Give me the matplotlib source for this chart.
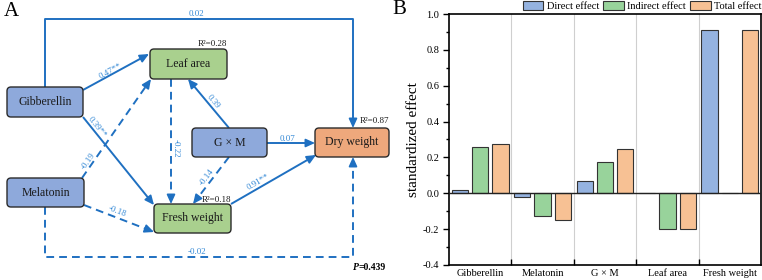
import math
import matplotlib
matplotlib.use("Agg")
import matplotlib.pyplot as plt
import numpy as np
from matplotlib.patches import FancyBboxPatch

plt.rcParams['font.family'] = ['Liberation Serif', 'DejaVu Serif']

# ---------- data ----------
# panel A: nodes, R2 and path coefficients
nodes = ["Gibberellin", "Melatonin", "G \u00d7 M", "Leaf area", "Fresh weight", "Dry weight"]
r2_labels = {"Leaf area": "R\u00b2=0.28", "Fresh weight": "R\u00b2=0.18", "Dry weight": "R\u00b2=0.87"}
path_from = ["Gibberellin", "Gibberellin", "Gibberellin", "Melatonin", "Melatonin", "Melatonin",
             "Leaf area", "G \u00d7 M", "G \u00d7 M", "G \u00d7 M", "Fresh weight"]
path_to = ["Dry weight", "Leaf area", "Fresh weight", "Leaf area", "Fresh weight", "Dry weight",
           "Fresh weight", "Leaf area", "Dry weight", "Fresh weight", "Dry weight"]
path_coef = ["0.02", "0.47**", "0.39**", "-0.19", "-0.18", "-0.02",
             "-0.22", "0.39", "0.07", "-0.14", "0.91**"]
p_value = "0.439"

# panel B: standardized effects
categories = ["Gibberellin", "Melatonin", "G \u00d7 M", "Leaf area", "Fresh weight"]
direct = [0.02, -0.018, 0.07, 0.0, 0.91]
indirect = [0.257, -0.127, 0.176, -0.2, 0.0]
total = [0.275, -0.147, 0.245, -0.2, 0.91]

# ---------- layout / styles for the path diagram (pixel space) ----------
box_pos = {  # x0, y0, x1, y1
    "Gibberellin": (7, 87, 83, 117),
    "Melatonin": (7, 178, 84, 207),
    "G \u00d7 M": (192, 128, 267, 157),
    "Leaf area": (150, 49, 227, 79),
    "Fresh weight": (154, 204, 231, 233),
    "Dry weight": (315, 128, 389, 157),
}
box_col = {"Gibberellin": "#8EA9DB", "Melatonin": "#8EA9DB", "G \u00d7 M": "#8EA9DB",
           "Leaf area": "#A9D08E", "Fresh weight": "#A9D08E", "Dry weight": "#EEA87C"}
r2_pos = {"Leaf area": (212, 44), "Fresh weight": (216, 200), "Dry weight": (374, 121)}
# polyline of each path, and label position
path_pts = [
    [(45, 87), (45, 19), (353, 19), (353, 128)],
    [(83, 90), (149, 54)],
    [(83, 117), (154, 205)],
    [(82, 178), (151, 79)],
    [(84, 205), (154, 232)],
    [(45, 207), (45, 257), (353, 257), (353, 157)],
    [(171, 79), (171, 204)],
    [(229, 128), (188, 79)],
    [(267, 143), (315, 143)],
    [(229, 157), (193, 204)],
    [(231, 204), (316, 155)],
]
label_pos = [(196, 14), (111, 71), (97, 127), (88, 161), (117, 212), (197, 252),
             (176, 148), (213, 102), (287, 139), (207, 177), (258, 182)]
arrow_c = "#1F70C1"
label_c = "#3489D6"

fig = plt.figure(figsize=(7.62, 2.8), dpi=100)

# ---------- panel A ----------
axa = fig.add_axes([0, 0, 390 / 762, 1])
axa.set_xlim(0, 390)
axa.set_ylim(280, 0)
axa.axis("off")

for i in range(len(path_coef)):
    pts = path_pts[i]
    dashed = path_coef[i].startswith("-")
    xs = [p[0] for p in pts]
    ys = [p[1] for p in pts]
    # stop the line a bit before the end so the head sits clean
    (xa, ya), (xb, yb) = pts[-2], pts[-1]
    L = math.hypot(xb - xa, yb - ya)
    ux, uy = (xb - xa) / L, (yb - ya) / L
    xs2 = xs[:-1] + [xb - ux * 5]
    ys2 = ys[:-1] + [yb - uy * 5]
    axa.plot(xs2, ys2, color=arrow_c, lw=1.4,
             ls=(0, (4, 2.6)) if dashed else "-", solid_capstyle="butt")
    axa.annotate("", xy=(xb, yb), xytext=(xb - ux * 7, yb - uy * 7),
                 arrowprops=dict(arrowstyle="-|>,head_length=0.55,head_width=0.25",
                                 color=arrow_c, lw=1.2, shrinkA=0, shrinkB=0))
    # label rotation follows the segment
    if len(pts) == 2:
        ang = math.degrees(math.atan2(-(yb - ya), xb - xa))
        if ang >= 90:
            ang -= 180
        elif ang < -90:
            ang += 180
    else:
        ang = 0
    axa.text(label_pos[i][0], label_pos[i][1], path_coef[i], color=label_c, fontsize=6.5,
             rotation=ang, rotation_mode="anchor", ha="center", va="center")

for n in nodes:
    x0, y0, x1, y1 = box_pos[n]
    axa.add_patch(FancyBboxPatch((x0, y0), x1 - x0, y1 - y0,
                                 boxstyle="round,pad=0,rounding_size=4",
                                 fc=box_col[n], ec="#2b2b2b", lw=1.0, zorder=3))
    axa.text((x0 + x1) / 2, (y0 + y1) / 2, n, fontsize=8.5, ha="center", va="center",
             color="#1a1a1a", zorder=4)

for n, lab in r2_labels.items():
    axa.text(r2_pos[n][0], r2_pos[n][1], lab, fontsize=6.5, ha="center", va="center",
             color="#1a1a1a", zorder=5)

t1 = axa.text(353, 268, "P", fontsize=7, fontweight="bold", fontstyle="italic",
              ha="left", va="center")
axa.annotate("=" + p_value, xy=(1, 0.5), xycoords=t1, fontsize=7, fontweight="bold",
             ha="left", va="center")
axa.text(4, 12, "A", fontsize=15, ha="left", va="center")

# ---------- panel B ----------
ax = fig.add_axes([449 / 762, 15 / 280, 312 / 762, 251 / 280])
x = np.arange(len(categories))
w = 0.26
ax.bar(x - 0.325, direct, w, color="#95B3E0", edgecolor="#333333", lw=0.8, label="Direct effect", zorder=3)
ax.bar(x, indirect, w, color="#98D39B", edgecolor="#333333", lw=0.8, label="Indirect effect", zorder=3)
ax.bar(x + 0.325, total, w, color="#F7C194", edgecolor="#333333", lw=0.8, label="Total effect", zorder=3)
ax.axhline(0, color="#222222", lw=1.0, zorder=4)
for b in x[:-1] + 0.5:
    ax.axvline(b, color="#cfcfcf", lw=0.8, zorder=1)

ax.set_xlim(-0.5, len(categories) - 0.5)
ax.set_ylim(-0.4, 1.0)
ax.set_yticks(np.arange(-0.4, 1.01, 0.2))
ax.set_yticklabels(["%.1f" % v for v in np.arange(-0.4, 1.01, 0.2)], fontsize=7.5)
ax.set_yticks(np.arange(-0.3, 1.0, 0.2), minor=True)
ax.tick_params(axis="y", which="major", direction="out", length=4.5, width=1.0, pad=2.5)
ax.tick_params(axis="y", which="minor", direction="out", length=2.5, width=1.0)
ax.set_xticks(x)
ax.set_xticklabels(categories, fontsize=7.5)
ax.tick_params(axis="x", which="major", length=0, pad=3)
ax.set_xticks(x[:-1] + 0.5, minor=True)
ax.tick_params(axis="x", which="minor", direction="in", length=4, width=1.0)
for s in ax.spines.values():
    s.set_linewidth(1.2)
ax.set_ylabel("standardized effect", fontsize=11, labelpad=2)
fig.text(392 / 762, 1 - 9 / 280, "B", fontsize=15, ha="left", va="center")

fig.legend(loc="upper right", bbox_to_anchor=(1.0, 1.0), ncol=3, frameon=False, fontsize=7.5,
           handlelength=2.0, handleheight=1.0, handletextpad=0.3, columnspacing=0.4,
           borderpad=0.05, borderaxespad=0)

fig.savefig("out.png", dpi=100)
